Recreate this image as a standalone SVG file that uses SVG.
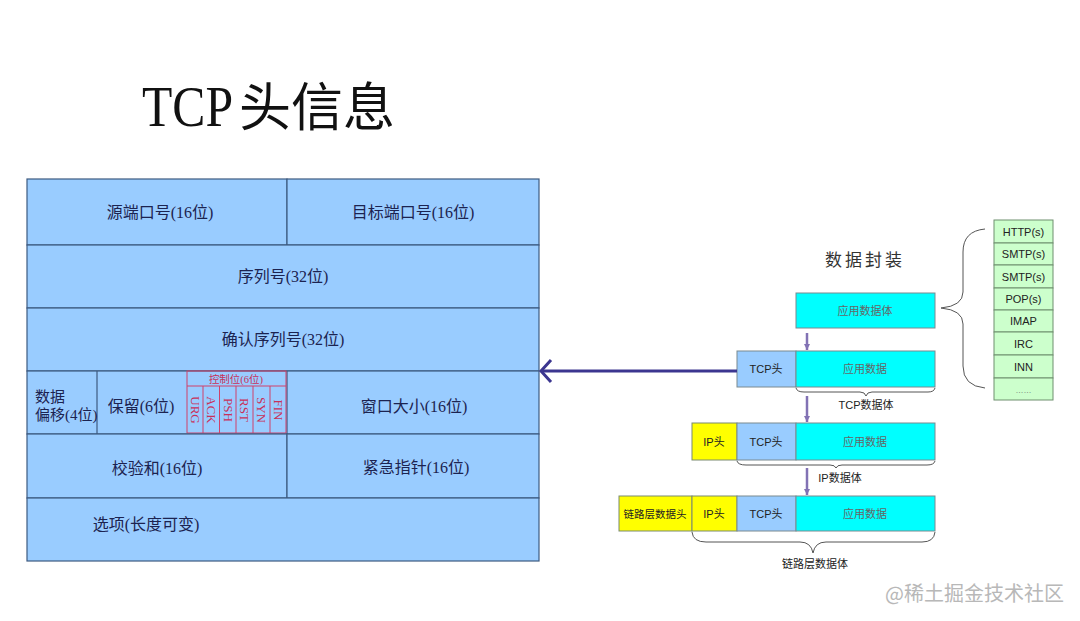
<svg xmlns="http://www.w3.org/2000/svg" width="1080" height="621" viewBox="0 0 1080 621">
<defs>
<style>
.cell{fill:#99ccff;stroke:#3d5a80;stroke-width:1.2}
.ln{stroke:#3d5a80;stroke-width:1.2;fill:none}
.tt{font-family:"Liberation Serif","Noto Sans CJK SC",serif;font-size:16px;fill:#1c2350;text-anchor:middle}
.red{stroke:#d0406a;stroke-width:1;fill:none}
.rt{font-family:"Liberation Serif","Noto Sans CJK SC",serif;font-size:13px;fill:#c8305a;text-anchor:middle}
.cyan{fill:#00ffff;stroke:#7a8a90;stroke-width:1}
.blue{fill:#99ccff;stroke:#7a8a90;stroke-width:1}
.yel{fill:#ffff00;stroke:#7a8a70;stroke-width:1}
.grn{fill:#ccffcc;stroke:#6f8f6f;stroke-width:1}
.st{font-family:"Liberation Sans","Noto Sans CJK SC",sans-serif;font-size:11px;fill:#222;text-anchor:middle}
.sg{font-family:"Liberation Sans","Noto Sans CJK SC",sans-serif;font-size:11px;fill:#666;text-anchor:middle}
.brace{fill:none;stroke:#555;stroke-width:1}
.varr{stroke:#8272b4;stroke-width:2.5;fill:none}
</style>
<marker id="vh" markerWidth="8" markerHeight="8" refX="6" refY="4" orient="auto" markerUnits="userSpaceOnUse">
<path d="M0,1 L6,4 L0,7 Z" fill="#8272b4"/>
</marker>
</defs>
<rect width="1080" height="621" fill="#ffffff"/>

<g id="title">
<text font-family="Liberation Serif,serif" font-size="58" fill="#111" y="126"><tspan x="142" textLength="91" lengthAdjust="spacingAndGlyphs">TCP</tspan></text>
<text font-family="'Noto Sans CJK SC',serif" font-size="52" fill="#111" x="239" y="126">头信息</text>
</g>

<g id="tcp-header">
<g id="row-ports">
<rect class="cell" x="27" y="179" width="260" height="66"/>
<rect class="cell" x="287" y="179" width="252" height="66"/>
<text class="tt" x="160" y="218">源端口号(16位)</text>
<text class="tt" x="413" y="218">目标端口号(16位)</text>
</g>
<g id="row-seq">
<rect class="cell" x="27" y="245" width="512" height="63"/>
<text class="tt" x="283" y="282">序列号(32位)</text>
</g>
<g id="row-ack">
<rect class="cell" x="27" y="308" width="512" height="63"/>
<text class="tt" x="283" y="345">确认序列号(32位)</text>
</g>
<g id="row-flags">
<rect class="cell" x="27" y="371" width="512" height="63"/>
<line class="ln" x1="97" y1="371" x2="97" y2="434"/>
<line class="ln" x1="287" y1="371" x2="287" y2="434"/>
<text class="tt" x="35" y="402" style="text-anchor:start;font-size:15px">数据</text>
<text class="tt" x="35" y="420" style="text-anchor:start;font-size:15px">偏移(4位)</text>
<text class="tt" x="141" y="412">保留(6位)</text>
<text class="tt" x="414" y="412">窗口大小(16位)</text>
<g id="control-bits">
<rect class="red" x="187" y="371" width="99" height="62"/>
<line class="red" x1="187" y1="386" x2="286" y2="386"/>
<line class="red" x1="203" y1="386" x2="203" y2="433"/>
<line class="red" x1="219.5" y1="386" x2="219.5" y2="433"/>
<line class="red" x1="236" y1="386" x2="236" y2="433"/>
<line class="red" x1="253" y1="386" x2="253" y2="433"/>
<line class="red" x1="270" y1="386" x2="270" y2="433"/>
<text class="rt" x="236" y="383" style="font-size:10.5px">控制位(6位)</text>
<text class="rt" transform="translate(195,410) rotate(90)" dy="4.5">URG</text>
<text class="rt" transform="translate(211.5,410) rotate(90)" dy="4.5">ACK</text>
<text class="rt" transform="translate(228,410) rotate(90)" dy="4.5">PSH</text>
<text class="rt" transform="translate(244.5,410) rotate(90)" dy="4.5">RST</text>
<text class="rt" transform="translate(261.5,410) rotate(90)" dy="4.5">SYN</text>
<text class="rt" transform="translate(278,410) rotate(90)" dy="4.5">FIN</text>
</g>
</g>
<g id="row-checksum">
<rect class="cell" x="27" y="434" width="260" height="64"/>
<rect class="cell" x="287" y="434" width="252" height="64"/>
<text class="tt" x="157" y="474">校验和(16位)</text>
<text class="tt" x="416" y="473">紧急指针(16位)</text>
</g>
<g id="row-options">
<rect class="cell" x="27" y="498" width="512" height="63"/>
<text class="tt" x="146" y="530">选项(长度可变)</text>
</g>
</g>

<g id="encap-title">
<text x="865" y="266" font-family="'Noto Sans CJK SC',serif" font-size="17" fill="#333" text-anchor="middle" letter-spacing="3">数据封装</text>
</g>

<g id="app-body">
<rect class="cyan" x="796" y="293" width="139" height="35"/>
<text class="sg" x="865" y="315">应用数据体</text>
</g>

<g id="tcp-segment">
<rect class="blue" x="737" y="351" width="59" height="36"/>
<rect class="cyan" x="796" y="351" width="139" height="36"/>
<text class="st" x="766" y="373">TCP头</text>
<text class="sg" x="865" y="373">应用数据</text>
<path class="brace" d="M796,388 Q797,392 804,392 L860,392 Q865,392 866,396 Q867,392 872,392 L928,392 Q934,392 935,388"/>
<text class="st" x="866" y="409">TCP数据体</text>
</g>

<g id="ip-packet">
<rect class="yel" x="692" y="423" width="45" height="37"/>
<rect class="blue" x="737" y="423" width="59" height="37"/>
<rect class="cyan" x="796" y="423" width="139" height="37"/>
<text class="st" x="714" y="446">IP头</text>
<text class="st" x="766" y="446">TCP头</text>
<text class="sg" x="865" y="446">应用数据</text>
<path class="brace" d="M737,461 Q738,465 746,465 L830,465 Q835,465 836,468 Q837,465 842,465 L927,465 Q934,465 935,461"/>
<text class="st" x="840" y="482">IP数据体</text>
</g>

<g id="link-frame">
<rect class="yel" x="619" y="496" width="73" height="35"/>
<rect class="yel" x="692" y="496" width="45" height="35"/>
<rect class="blue" x="737" y="496" width="59" height="35"/>
<rect class="cyan" x="796" y="496" width="139" height="35"/>
<text class="st" x="655" y="518" style="font-size:10.5px">链路层数据头</text>
<text class="st" x="714" y="518">IP头</text>
<text class="st" x="766" y="518">TCP头</text>
<text class="sg" x="865" y="518">应用数据</text>
<path class="brace" d="M692,532 Q693,542 706,542 L800,542 Q811,542 813,553 Q815,542 826,542 L922,542 Q934,542 935,532"/>
<text class="st" x="815" y="568">链路层数据体</text>
</g>

<g id="protocols">
<rect class="grn" x="994" y="220" width="59" height="23"/>
<rect class="grn" x="994" y="243" width="59" height="22"/>
<rect class="grn" x="994" y="265" width="59" height="23"/>
<rect class="grn" x="994" y="288" width="59" height="22"/>
<rect class="grn" x="994" y="310" width="59" height="22"/>
<rect class="grn" x="994" y="332" width="59" height="23"/>
<rect class="grn" x="994" y="355" width="59" height="23"/>
<rect class="grn" x="994" y="378" width="59" height="22"/>
<text class="st" x="1023.5" y="236">HTTP(s)</text>
<text class="st" x="1023.5" y="258">SMTP(s)</text>
<text class="st" x="1023.5" y="281">SMTP(s)</text>
<text class="st" x="1023.5" y="303">POP(s)</text>
<text class="st" x="1023.5" y="325">IMAP</text>
<text class="st" x="1023.5" y="348">IRC</text>
<text class="st" x="1023.5" y="371">INN</text>
<text class="sg" x="1023.5" y="393" style="font-size:8px">……</text>
</g>

<g id="connectors">
<path class="brace" d="M985,229 Q963,231 963,252 L963,292 Q963,306 941,308 Q963,310 963,324 L963,366 Q963,386 985,388"/>
<line x1="737" y1="371" x2="542" y2="371" stroke="#3c3690" stroke-width="3"/>
<polyline points="551,360 541,371 551,382" fill="none" stroke="#3c3690" stroke-width="3"/>
<line class="varr" x1="807" y1="333" x2="807" y2="350" marker-end="url(#vh)"/>
<line class="varr" x1="807" y1="396" x2="807" y2="422" marker-end="url(#vh)"/>
<line class="varr" x1="807" y1="468" x2="807" y2="495" marker-end="url(#vh)"/>
</g>

<g id="watermark">
<text x="1064" y="601" font-family="'Noto Sans CJK SC',sans-serif" font-size="20" fill="#b8b8b8" text-anchor="end">@稀土掘金技术社区</text>
</g>
</svg>
